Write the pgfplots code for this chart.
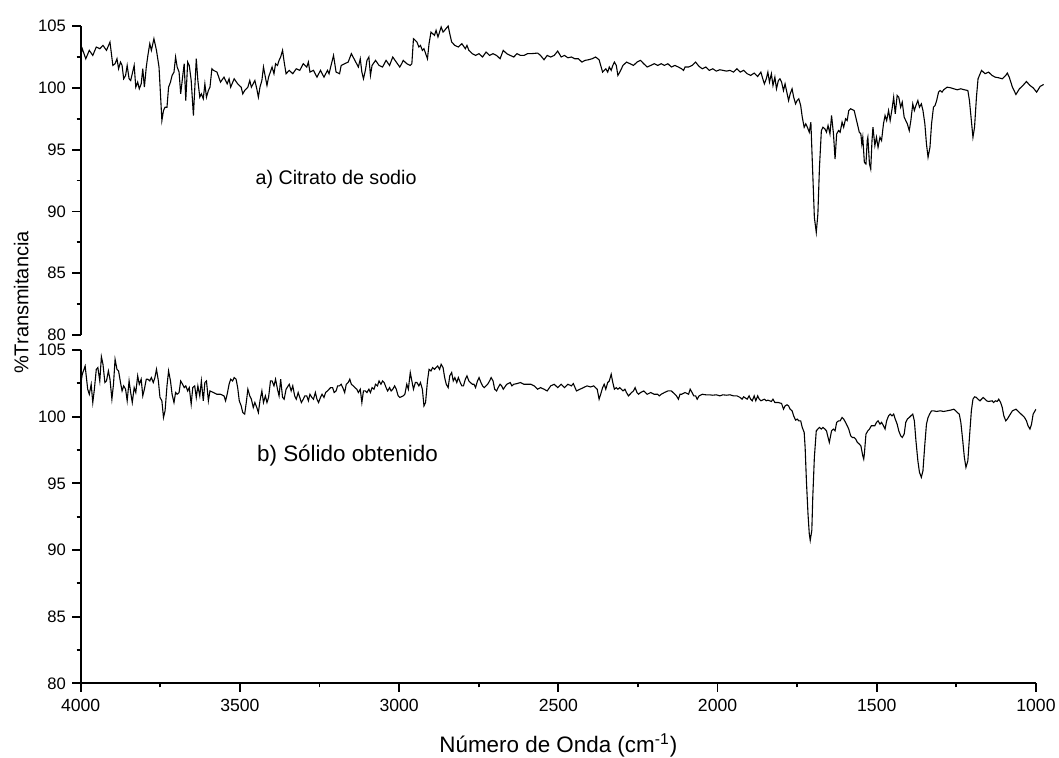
\documentclass[border=0pt]{standalone}
\usepackage{fontspec}
\setmainfont{Liberation Sans}
\usepackage{pgfplots}
\pgfplotsset{compat=1.18}
\usepackage{pgfplotstable}

\pgfplotstableread{
wn T
4000 102.62
3995 103.16
3984 102.35
3973 103.03
3962 102.62
3951 103.30
3940 103.16
3930 103.43
3919 103.03
3908 103.70
3899 101.81
3892 101.95
3886 102.35
3881 101.54
3875 102.08
3870 101.81
3865 100.73
3859 101.00
3854 101.81
3848 100.73
3843 100.59
3838 101.14
3832 101.81
3827 100.05
3821 100.46
3816 99.92
3810 100.32
3805 101.54
3800 100.05
3794 101.68
3789 102.62
3783 103.57
3778 103.03
3770 103.97
3762 103.03
3754 101.68
3745 97.35
3740 98.16
3735 98.43
3729 98.43
3724 100.05
3718 100.46
3713 101.00
3707 101.27
3702 102.49
3697 101.68
3691 101.27
3686 99.51
3680 100.86
3675 101.95
3670 98.97
3664 102.08
3659 101.81
3653 100.59
3646 97.76
3637 102.35
3632 100.59
3626 99.24
3621 99.51
3615 99.11
3610 100.32
3605 99.24
3599 99.78
3594 100.05
3588 101.54
3583 101.41
3572 101.27
3561 100.46
3550 100.86
3540 100.32
3534 100.73
3529 100.05
3518 100.73
3507 100.32
3496 100.05
3491 99.51
3485 99.78
3475 100.05
3469 100.59
3464 100.05
3453 100.59
3447 99.92
3442 99.24
3437 100.05
3431 100.59
3426 101.68
3420 100.86
3415 100.19
3410 100.86
3399 101.68
3393 101.14
3388 101.95
3382 101.81
3377 102.22
3372 102.49
3366 103.03
3361 102.08
3355 101.14
3345 101.41
3334 101.14
3323 101.54
3312 101.41
3301 101.95
3290 101.68
3285 102.08
3280 101.27
3269 101.41
3258 100.86
3247 101.41
3236 100.86
3225 101.41
3220 101.14
3215 101.68
3206 102.62
3198 101.27
3187 101.14
3182 101.81
3171 101.95
3160 102.08
3150 102.76
3139 102.22
3128 101.68
3122 102.35
3117 101.27
3112 100.73
3106 101.41
3101 102.22
3095 102.49
3090 101.00
3085 101.81
3074 102.22
3063 101.81
3052 101.68
3041 102.22
3030 101.81
3020 102.49
3009 102.08
2998 101.68
2992 101.95
2987 102.22
2976 101.95
2965 101.81
2960 101.95
2955 103.97
2944 103.70
2938 103.30
2933 103.43
2927 103.03
2922 103.16
2911 102.35
2906 103.57
2900 104.51
2889 104.24
2884 104.65
2878 104.11
2873 104.51
2868 104.92
2862 104.51
2857 104.65
2846 105.00
2841 104.38
2835 103.70
2825 103.43
2814 103.30
2803 103.57
2792 103.16
2787 103.43
2781 103.03
2770 102.76
2760 102.62
2749 102.76
2738 102.49
2727 102.89
2716 102.62
2705 102.76
2694 102.62
2683 102.35
2673 103.03
2662 102.76
2651 102.62
2640 102.49
2630 102.76
2619 102.62
2608 102.62
2597 102.76
2586 102.76
2565 102.81
2556 102.62
2545 102.27
2535 102.62
2524 102.49
2513 102.62
2502 102.97
2491 102.49
2481 102.62
2470 102.43
2459 102.49
2448 102.35
2437 102.35
2426 102.08
2416 102.22
2405 102.27
2394 102.35
2383 102.49
2372 102.27
2361 101.27
2351 101.54
2345 101.27
2340 101.68
2334 101.41
2329 101.81
2324 102.08
2318 101.81
2313 101.00
2307 101.27
2297 101.81
2286 102.08
2275 101.95
2264 101.81
2253 102.08
2242 102.22
2232 101.95
2221 101.68
2210 101.81
2199 101.95
2188 101.81
2177 101.95
2167 101.81
2156 101.95
2145 101.68
2134 101.81
2123 101.68
2113 101.54
2107 101.41
2102 101.68
2091 101.68
2080 101.81
2069 102.08
2058 101.73
2048 101.54
2037 101.68
2026 101.41
2015 101.54
2004 101.35
1993 101.46
1983 101.41
1972 101.35
1961 101.41
1950 101.27
1939 101.54
1929 101.27
1918 101.41
1907 101.14
1896 101.00
1885 101.19
1874 100.92
1864 101.27
1858 100.73
1853 100.32
1847 100.73
1842 101.27
1837 100.46
1831 101.14
1826 100.19
1820 100.86
1815 99.92
1809 100.59
1804 100.73
1799 100.46
1793 99.78
1788 100.32
1777 98.97
1772 99.51
1766 99.92
1761 99.24
1755 98.70
1750 98.97
1745 99.11
1739 98.57
1734 97.62
1728 96.81
1723 97.08
1718 96.81
1712 96.41
1707 97.22
1701 93.03
1696 89.51
1690 88.30
1685 89.78
1680 93.57
1674 96.54
1669 96.81
1663 96.68
1658 96.41
1653 96.95
1647 96.27
1642 97.76
1636 96.27
1631 94.24
1626 96.27
1620 96.54
1615 96.41
1609 97.22
1604 96.81
1598 97.49
1593 97.35
1588 98.16
1582 98.30
1571 98.16
1566 97.62
1561 97.08
1555 96.41
1550 96.27
1547 95.46
1544 96.00
1539 93.97
1534 93.84
1530 95.73
1528 96.00
1523 93.84
1519 93.43
1515 95.73
1512 96.81
1506 95.32
1501 96.00
1496 95.19
1490 96.00
1485 95.73
1479 97.08
1474 97.76
1469 97.35
1463 98.16
1458 97.35
1452 98.30
1447 99.24
1442 97.89
1436 99.38
1431 99.24
1425 98.43
1420 98.84
1414 97.62
1409 97.35
1404 97.08
1398 96.54
1393 97.35
1387 98.70
1382 98.16
1377 98.57
1371 98.97
1366 98.43
1360 98.70
1355 98.16
1349 97.08
1344 95.46
1339 94.38
1333 95.19
1328 97.08
1322 98.43
1317 98.57
1312 98.97
1306 99.65
1301 99.78
1295 99.65
1290 99.84
1279 100.05
1268 100.00
1258 99.92
1247 99.84
1236 99.92
1225 99.84
1214 99.78
1209 98.97
1203 97.35
1198 96.00
1193 96.81
1187 99.24
1182 100.73
1171 101.41
1160 101.14
1149 101.27
1138 101.00
1128 100.86
1117 100.81
1106 100.73
1095 101.00
1090 101.19
1084 100.86
1074 100.05
1063 99.46
1052 99.92
1041 100.19
1030 100.51
1019 100.19
1009 100.00
998 99.65
987 100.11
976 100.27
}\topdata

\pgfplotstableread{
wn T
4000 102.43
3995 103.18
3986 103.80
3978 102.06
3973 101.68
3967 102.43
3962 101.06
3957 102.06
3951 103.55
3946 103.68
3940 102.68
3935 104.50
3930 103.93
3924 102.56
3919 102.68
3913 103.43
3908 102.81
3902 101.31
3897 102.43
3892 104.30
3886 103.55
3881 103.43
3875 102.56
3870 101.93
3865 102.31
3859 102.06
3854 101.19
3848 102.68
3843 101.81
3838 101.06
3832 102.18
3827 101.81
3821 103.06
3816 102.43
3810 102.81
3805 101.56
3800 102.06
3794 102.81
3789 102.81
3783 102.68
3778 102.93
3772 102.56
3767 102.93
3762 103.55
3756 102.68
3751 101.44
3745 101.19
3740 99.94
3735 100.44
3729 102.31
3724 103.43
3718 102.68
3713 101.68
3707 101.06
3702 101.81
3697 101.68
3691 101.81
3686 102.68
3680 102.43
3675 102.18
3670 102.31
3664 101.93
3659 102.18
3653 100.94
3648 102.18
3642 102.31
3637 101.44
3632 102.31
3626 101.56
3621 102.68
3615 101.19
3610 102.56
3605 102.68
3599 101.19
3594 101.93
3583 101.81
3572 101.68
3561 101.68
3550 101.56
3545 101.19
3540 101.68
3534 102.43
3529 102.81
3523 102.68
3518 102.93
3512 102.81
3507 102.18
3502 101.19
3496 100.81
3491 100.31
3485 100.19
3480 101.06
3475 102.06
3469 101.56
3464 101.31
3458 100.69
3453 101.06
3447 100.69
3442 100.31
3437 101.19
3431 101.93
3426 101.06
3420 101.56
3415 101.06
3410 101.44
3404 102.68
3399 102.68
3393 102.31
3388 102.81
3382 102.06
3377 101.56
3372 102.81
3366 101.44
3361 101.31
3355 102.06
3345 102.43
3339 101.93
3334 102.31
3328 101.56
3323 101.31
3317 101.81
3312 101.44
3307 101.06
3301 101.31
3296 101.56
3290 101.56
3285 101.19
3280 101.68
3274 101.44
3269 101.31
3263 101.81
3258 101.31
3253 101.06
3247 101.44
3242 101.68
3236 101.44
3231 101.81
3225 101.93
3220 102.06
3215 102.18
3209 102.18
3204 101.81
3198 101.93
3193 102.31
3187 102.31
3182 102.43
3177 102.18
3171 101.81
3166 102.43
3160 102.56
3155 102.81
3150 102.43
3144 102.31
3139 102.18
3133 102.06
3128 101.81
3122 102.06
3117 101.06
3112 101.93
3106 101.93
3101 101.81
3095 102.06
3090 101.81
3085 102.18
3079 102.06
3074 102.43
3068 102.31
3063 102.68
3057 102.43
3052 102.68
3047 102.56
3041 102.18
3036 101.93
3030 102.18
3025 101.93
3020 102.06
3014 102.31
3009 102.06
3003 101.56
2998 101.44
2987 101.56
2982 101.68
2976 102.43
2971 102.06
2965 103.31
2960 102.68
2955 102.06
2949 102.56
2944 102.56
2938 102.31
2933 102.56
2927 102.06
2922 100.81
2917 101.06
2911 102.68
2906 103.55
2900 103.43
2895 103.68
2889 103.55
2884 103.68
2879 103.80
2873 103.55
2868 103.93
2862 103.68
2857 102.93
2852 102.43
2846 102.18
2841 103.06
2835 103.31
2830 102.68
2825 102.93
2819 102.56
2814 102.93
2808 102.56
2803 102.31
2798 102.31
2792 102.81
2787 103.06
2781 102.68
2776 102.56
2770 102.43
2765 102.43
2760 102.18
2754 102.68
2749 102.93
2743 102.56
2738 102.31
2733 102.18
2727 102.31
2722 102.43
2716 102.68
2711 102.93
2705 102.68
2700 102.06
2694 101.93
2689 102.18
2683 102.43
2678 102.31
2673 102.06
2662 102.43
2651 102.56
2646 102.31
2640 102.43
2630 102.48
2619 102.56
2608 102.43
2597 102.43
2586 102.43
2576 102.31
2565 102.06
2556 102.18
2545 102.06
2535 101.93
2524 102.31
2513 102.43
2502 102.18
2491 102.43
2481 102.18
2470 102.43
2459 102.31
2453 102.48
2443 101.93
2432 102.06
2421 102.18
2410 102.31
2399 102.23
2389 102.31
2378 102.06
2372 101.31
2367 101.68
2361 102.18
2356 102.43
2351 102.06
2345 102.56
2340 102.68
2334 103.18
2329 102.56
2324 102.06
2318 102.18
2313 102.06
2307 102.18
2297 101.93
2291 102.06
2286 101.81
2280 101.56
2275 101.68
2270 101.81
2264 101.93
2259 102.18
2253 101.81
2248 101.68
2242 101.81
2232 101.93
2221 101.68
2210 101.81
2199 101.68
2188 101.68
2183 101.56
2177 101.68
2167 101.81
2156 101.93
2145 101.93
2134 101.68
2129 101.56
2123 101.31
2118 101.68
2113 101.68
2102 101.81
2091 101.68
2086 102.06
2080 101.81
2075 101.56
2069 101.56
2064 101.31
2058 101.56
2048 101.68
2037 101.64
2026 101.64
2015 101.61
2004 101.64
1993 101.56
1983 101.64
1972 101.61
1961 101.64
1950 101.56
1939 101.56
1929 101.44
1923 101.31
1918 101.49
1907 101.31
1901 101.56
1896 101.31
1891 101.19
1885 101.56
1880 101.19
1874 101.56
1869 101.31
1864 101.19
1853 101.31
1847 101.19
1842 101.24
1831 101.14
1826 101.31
1820 101.06
1809 101.06
1799 100.99
1793 100.56
1788 100.81
1782 100.89
1777 100.81
1772 100.56
1766 100.44
1761 100.06
1755 99.74
1750 99.82
1745 99.69
1739 99.69
1734 99.19
1728 98.82
1725 97.70
1721 95.20
1716 92.71
1712 91.22
1709 90.72
1704 91.47
1701 93.96
1696 96.95
1690 98.94
1685 99.07
1680 99.19
1674 99.07
1669 99.19
1663 99.07
1658 98.94
1653 98.44
1649 98.07
1645 98.57
1642 98.94
1636 99.07
1631 98.94
1626 99.57
1620 99.69
1615 99.69
1609 99.94
1604 99.82
1598 99.57
1593 99.32
1588 99.07
1582 98.57
1577 98.44
1571 98.44
1566 98.32
1561 98.07
1555 97.95
1550 97.82
1544 97.07
1541 96.82
1539 97.20
1534 98.69
1528 98.94
1523 99.07
1517 99.32
1506 99.32
1501 99.57
1496 99.69
1490 99.44
1485 99.57
1479 99.32
1474 99.07
1469 99.69
1463 100.06
1458 100.19
1452 100.06
1447 100.19
1442 99.82
1436 99.44
1431 98.94
1425 98.57
1420 98.44
1414 98.69
1409 99.57
1404 99.82
1398 99.94
1393 100.06
1387 100.19
1382 99.69
1377 98.19
1371 96.70
1366 95.83
1360 95.45
1355 95.95
1349 97.95
1344 99.44
1339 99.94
1333 100.24
1328 100.44
1322 100.44
1312 100.39
1301 100.44
1290 100.39
1279 100.44
1268 100.49
1258 100.56
1252 100.44
1247 100.31
1241 100.19
1236 99.57
1230 98.19
1225 96.95
1220 96.20
1214 96.70
1209 98.44
1203 100.44
1198 101.31
1193 101.49
1187 101.44
1182 101.31
1176 101.19
1171 101.31
1166 101.44
1160 101.31
1155 101.19
1149 101.14
1138 101.19
1133 101.06
1128 101.19
1122 101.14
1117 101.31
1111 101.06
1106 100.69
1101 100.06
1095 99.69
1090 99.82
1084 100.06
1074 100.44
1063 100.56
1052 100.31
1041 100.06
1036 99.94
1030 99.69
1025 99.32
1019 99.07
1014 99.44
1009 100.19
1003 100.44
1000 100.56
}\botdata

\begin{document}
\begin{tikzpicture}
\path[use as bounding box] (0,0) rectangle (529.5pt,378.5pt);
\pgfplotsset{
  common/.style={
    scale only axis, width=477.65pt,
    x dir=reverse, xmin=1000, xmax=4000, ymin=80, ymax=105,
    axis line style={line width=0.9pt},
    every tick/.style={line width=0.9pt, black},
    tick align=outside, major tick length=4.2pt, minor tick length=2pt,
    ytick={80,85,...,105}, minor y tick num=1,
    /pgf/number format/assume math mode=true,
    /pgf/number format/1000 sep={},
    yticklabel style={font=\fontsize{8.3}{10}\selectfont, inner sep=0pt, xshift=-3pt},
    anchor=south west,
  }
}
\begin{axis}[common, at={(40.35pt,211pt)}, height=154.5pt,
  hide x axis, axis y line*=left, clip=false]
\addplot[black, line width=0.55pt] table[x=wn,y=T] {\topdata};
\node[anchor=west, inner sep=0pt, font=\fontsize{9.85}{12}\selectfont] at (axis cs:3452,92.6) {a) Citrato de sodio};
\end{axis}
\begin{axis}[common, at={(40.35pt,36.85pt)}, height=166.65pt,
  axis x line*=bottom, axis y line*=left,
  xtick={1000,1500,...,4000}, minor x tick num=1,
  xticklabel style={font=\fontsize{8.8}{10}\selectfont, inner sep=0pt, yshift=-3.5pt},
  xlabel={Número de Onda (cm\textsuperscript{-1})},
  xlabel style={font=\fontsize{11.2}{13}\selectfont, at={(axis description cs:0.5,0)}, anchor=base, yshift=-34.8pt, inner sep=0pt}]
\addplot[black, line width=0.55pt] table[x=wn,y=T] {\botdata};
\node[anchor=west, inner sep=0pt, font=\fontsize{11.2}{13}\selectfont] at (axis cs:3447,97.1) {b) Sólido obtenido};
\end{axis}
\node[rotate=90, anchor=base, inner sep=0pt, font=\fontsize{10}{12}\selectfont] at (14.2pt,227.25pt) {\%Transmitancia};
\end{tikzpicture}
\end{document}
